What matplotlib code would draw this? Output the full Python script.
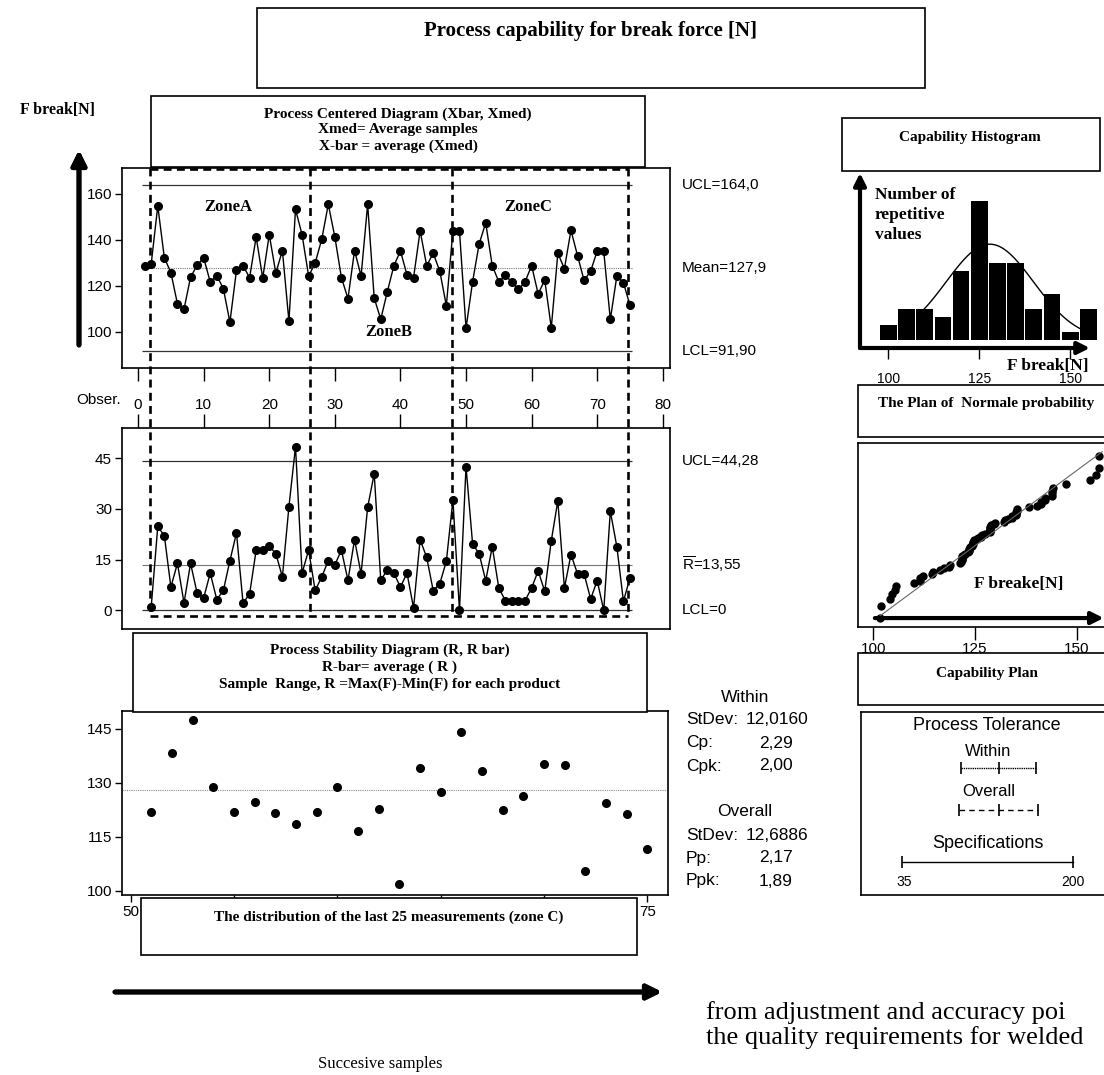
import matplotlib.pyplot as plt
import numpy as np
from matplotlib.patches import Rectangle
from matplotlib.lines import Line2D
from matplotlib.transforms import blended_transform_factory
from statistics import NormalDist

# individual measurements, observations 1..75
x_vals = [128.8, 129.6, 154.8, 132.3, 125.8, 112.2, 109.9, 123.8, 129.0, 132.2,
          121.7, 124.5, 118.8, 104.2, 126.8, 128.8, 123.6, 141.3, 123.4, 142.3,
          125.6, 135.4, 104.6, 153.3, 142.3, 124.3, 130.0, 140.3, 155.5, 141.3,
          123.6, 114.5, 135.4, 124.3, 155.5, 114.7, 105.5, 117.5, 128.8, 135.2,
          124.8, 123.6, 144.0, 128.8, 134.2, 126.4, 111.4, 144.0, 144.0, 101.6,
          121.8, 138.3, 147.4, 128.8, 121.8, 124.6, 121.6, 118.5, 121.8, 128.8,
          116.5, 122.6, 101.8, 134.2, 127.5, 144.2, 133.2, 122.4, 126.4, 135.2,
          135.0, 105.4, 124.4, 121.4, 111.6]
# moving ranges, observations 2..75
r_vals = [1.0, 24.8, 22.1, 6.9, 13.9, 2.2, 13.9, 5.1, 3.7, 11.0,
          3.2, 5.9, 14.7, 22.9, 2.2, 4.8, 17.8, 17.8, 19.0, 16.8,
          9.9, 30.7, 48.4, 11.0, 17.8, 5.9, 9.9, 14.7, 13.5, 17.8,
          8.9, 20.9, 10.8, 30.5, 40.4, 8.9, 12.0, 11.0, 6.9, 11.0,
          0.7, 20.9, 15.7, 5.8, 7.9, 14.5, 32.7, 0.0, 42.5, 19.7,
          16.7, 8.8, 18.8, 6.6, 2.9, 2.9, 2.9, 2.9, 6.6, 11.7,
          5.6, 20.6, 32.4, 6.6, 16.5, 10.8, 10.8, 3.4, 8.8, 0.0,
          29.3, 18.8, 2.7, 9.6]
x_limits = [164.0, 127.9, 91.90]
x_limit_labels = ['UCL=164,0', 'Mean=127,9', 'LCL=91,90']
r_limits = [44.28, 13.55, 0.0]
r_limit_labels = ['UCL=44,28', r'$\overline{\rm R}$=13,55', 'LCL=0']
zone_edges = [1.8, 26.2, 47.8, 74.7]
last_ticks = [50, 55, 60, 65, 70, 75]
last_tick_labels = ['50', '', '', '', '', '75']

hist_centers = [100, 105, 110, 115, 120, 125, 130, 135, 140, 145, 150, 155]
hist_counts = [2, 4, 4, 3, 9, 18, 10, 10, 4, 6, 1, 4]

mean_val = 127.9
sd_within = 12.0160
sd_overall = 12.6886
lsl, usl = 35, 200
stats_within = [('StDev:', '12,0160'), ('Cp:', '2,29'), ('Cpk:', '2,00')]
stats_overall = [('StDev:', '12,6886'), ('Pp:', '2,17'), ('Ppk:', '1,89')]

W, H = 1104, 1075
SERIF = ['Liberation Serif', 'DejaVu Serif']
SANS = ['Liberation Sans Narrow', 'Liberation Sans', 'DejaVu Sans']
plt.rcParams['font.family'] = SANS
plt.rcParams['mathtext.fontset'] = 'custom'
plt.rcParams['mathtext.rm'] = 'Liberation Sans'

fig = plt.figure(figsize=(W / 100, H / 100), dpi=100)


def fx(x):
    return x / W


def fy(y):
    return 1 - y / H


def add_ax(x0, y0, x1, y1):
    return fig.add_axes([fx(x0), fy(y1), (x1 - x0) / W, (y1 - y0) / H])


def txt(x, y, s, **kw):
    kw.setdefault('ha', 'center')
    kw.setdefault('va', 'center')
    return fig.text(fx(x), fy(y), s, **kw)


def frame(x0, y0, x1, y1, lw=1.2):
    fig.add_artist(Rectangle((fx(x0), fy(y1)), (x1 - x0) / W, (y1 - y0) / H,
                             transform=fig.transFigure, facecolor='white',
                             edgecolor='black', lw=lw, zorder=1))


def arrow(x0, y0, x1, y1, lw=3.5, ms=22):
    fig.add_artist(plt.annotate('', xy=(fx(x1), fy(y1)), xytext=(fx(x0), fy(y0)),
                                xycoords='figure fraction',
                                arrowprops=dict(arrowstyle='-|>', lw=lw, color='black',
                                                mutation_scale=ms, shrinkA=0, shrinkB=0)))


def style_spines(ax, lw=1.2):
    for s in ax.spines.values():
        s.set_linewidth(lw)


obs = np.arange(1, len(x_vals) + 1)
obs_r = obs[1:]

# ---- individuals chart
ax_x = add_ax(121.7, 168, 670, 368)
ax_x.plot(obs, x_vals, color='black', lw=1.0, marker='o', ms=5.5, zorder=3)
ax_x.hlines([x_limits[0], x_limits[2]], 0.6, 75.3, color='#333333', lw=0.9)
ax_x.hlines(x_limits[1], 0.6, 75.3, color='#777777', lw=0.8, ls=(0, (1, 1)))
ax_x.set_xlim(-2.5, 81.1)
ax_x.set_ylim(84.3, 171.3)
ax_x.set_xticks(range(0, 81, 10))
ax_x.set_yticks([100, 120, 140, 160])
ax_x.tick_params(axis='x', direction='out', length=9, width=1, labelbottom=False)
ax_x.tick_params(axis='y', direction='out', length=5, width=1, labelsize=11, pad=2)
style_spines(ax_x)
tr = blended_transform_factory(ax_x.transAxes, ax_x.transData)
for v, lab in zip(x_limits, x_limit_labels):
    ax_x.text(1.022, v, lab, transform=tr, ha='left', va='center', fontsize=11,
              clip_on=False)

# ---- moving range chart
ax_r = add_ax(121.7, 427.7, 670, 629)
ax_r.plot(obs_r, r_vals, color='black', lw=1.0, marker='o', ms=5.5, zorder=3)
ax_r.hlines([r_limits[0], r_limits[2]], 0.6, 75.3, color='#333333', lw=0.9)
ax_r.hlines(r_limits[1], 0.6, 75.3, color='#777777', lw=0.8)
ax_r.set_xlim(-2.5, 81.1)
ax_r.set_ylim(-5.5, 54.0)
ax_r.set_xticks(range(0, 81, 10))
ax_r.set_yticks([0, 15, 30, 45])
ax_r.tick_params(axis='x', direction='out', length=10, width=1, top=True, bottom=False,
                 labeltop=True, labelbottom=False, labelsize=11, pad=1)
ax_r.tick_params(axis='y', direction='out', length=5, width=1, labelsize=11, pad=2)
style_spines(ax_r)
tr = blended_transform_factory(ax_r.transAxes, ax_r.transData)
for v, lab in zip(r_limits, r_limit_labels):
    ax_r.text(1.022, v, lab, transform=tr, ha='left', va='center', fontsize=11,
              clip_on=False)
txt(121, 400, 'Obser.', ha='right', fontsize=11)

# zone frames across both charts
trz = blended_transform_factory(ax_x.transData, fig.transFigure)
dash = dict(color='black', lw=1.9, ls=(0, (3, 2)), transform=trz, zorder=5)
for z in zone_edges:
    fig.add_artist(Line2D([z, z], [fy(168), fy(616)], **dash))
fig.add_artist(Line2D([zone_edges[0], zone_edges[-1]], [fy(616), fy(616)], **dash))
fig.add_artist(Line2D([zone_edges[0], zone_edges[-1]], [fy(168.5), fy(168.5)], **dash))

zfont = dict(family=SERIF, weight='bold', fontsize=12)
txt(228, 207, 'ZoneA', **zfont)
txt(389, 332, 'ZoneB', **zfont)
txt(528, 207, 'ZoneC', **zfont)

# ---- last 25 measurements
ax_s = add_ax(121.7, 711, 668, 895)
ax_s.plot(obs[-25:], x_vals[-25:], 'o', color='black', ms=5.5, zorder=3)
ax_s.axhline(mean_val, color='#888888', lw=0.8, ls=(0, (1, 1)))
ax_s.set_xlim(49.57, 76.0)
ax_s.set_ylim(98.8, 149.9)
ax_s.set_xticks(last_ticks)
ax_s.set_xticklabels(last_tick_labels)
ax_s.set_yticks([100, 115, 130, 145])
ax_s.tick_params(direction='out', length=5, width=1, labelsize=11, pad=2)
style_spines(ax_s)

# ---- header boxes (left)
frame(257, 8, 925, 88)
txt(590, 31, 'Process capability for break force [N]', family=SERIF, weight='bold',
    fontsize=15)
frame(150.7, 96, 645, 167)
hfont = dict(family=SERIF, weight='bold', fontsize=11)
txt(398, 114, 'Process Centered Diagram (Xbar, Xmed)', **hfont)
txt(398, 130, 'Xmed= Average samples', **hfont)
txt(398, 146, 'X-bar = average (Xmed)', **hfont)
frame(133, 633, 647, 712)
txt(390, 650, 'Process Stability Diagram (R, R bar)', **hfont)
txt(390, 667, 'R-bar= average ( R )', **hfont)
txt(390, 684, 'Sample  Range, R =Max(F)-Min(F) for each product', **hfont)
frame(141, 898, 637, 955)
txt(389, 917, 'The distribution of the last 25 measurements (zone C)', **hfont)

txt(57, 110, 'F break[N]', family=SERIF, weight='bold', fontsize=11.5)
arrow(79, 345, 79, 150, lw=3.5)
arrow(115, 992, 662, 992, lw=3.5)
txt(380, 1064, 'Succesive samples', family=SERIF, fontsize=12)
txt(706, 1013, 'from adjustment and accuracy poi', ha='left', family=SERIF,
    fontsize=19)
txt(706, 1038, 'the quality requirements for welded', ha='left', family=SERIF,
    fontsize=19)

# ---- stats text
sfont = dict(fontsize=12.5)
txt(745, 697, 'Within', **sfont)
for i, (lab, val) in enumerate(stats_within):
    y = 720 + 23 * i
    txt(686, y, lab, ha='left', **sfont)
    txt(746 if len(val) > 4 else 759, y, val, ha='left', **sfont)
txt(745, 812, 'Overall', **sfont)
for i, (lab, val) in enumerate(stats_overall):
    y = 835 + 23 * i
    txt(686, y, lab, ha='left', **sfont)
    txt(746 if len(val) > 4 else 759, y, val, ha='left', **sfont)

# ---- capability histogram
frame(841.7, 118, 1100, 171)
txt(970, 138, 'Capability Histogram', **hfont)
ax_h = add_ax(860, 173, 1100, 348)
ax_h.bar(hist_centers, hist_counts, width=4.6, color='black')
xc = np.linspace(109, 153, 100)
n_tot = sum(hist_counts)
pdf = np.exp(-0.5 * ((xc - mean_val) / sd_within) ** 2) / (sd_within * np.sqrt(2 * np.pi))
ax_h.plot(xc, n_tot * 5 * pdf, color='black', lw=1.0)
ax_h.set_xlim(92.2, 158.2)
ax_h.set_ylim(-1.04, 21.7)
for s in ax_h.spines.values():
    s.set_visible(False)
ax_h.set_yticks([])
ax_h.set_xticks([100, 125, 150])
ax_h.tick_params(axis='x', direction='out', length=8, width=1, labelsize=10, pad=9)
ax_h.annotate('', xy=(0, 1), xytext=(0, 0), xycoords='axes fraction',
              arrowprops=dict(arrowstyle='-|>', lw=3, color='black', mutation_scale=18,
                              shrinkA=0, shrinkB=0), annotation_clip=False)
ax_h.annotate('', xy=(0.958, 0), xytext=(0, 0), xycoords='axes fraction',
              arrowprops=dict(arrowstyle='-|>', lw=3, color='black', mutation_scale=18,
                              shrinkA=0, shrinkB=0), annotation_clip=False)
txt(875, 215, 'Number of\nrepetitive\nvalues', ha='left', family=SERIF, weight='bold',
    fontsize=12.5, linespacing=1.3)
txt(1007, 366, 'F break[N]', ha='left', family=SERIF, weight='bold', fontsize=12.5)

# ---- normal probability plot
frame(858, 385, 1110, 437)
txt(986, 404, 'The Plan of  Normale probability', **hfont)
ax_p = add_ax(858, 442.7, 1110, 626.7)
xs = np.sort(x_vals)
nd = NormalDist()
pp = (np.arange(1, len(xs) + 1) - 0.3) / (len(xs) + 0.4)
zq = np.array([nd.inv_cdf(p) for p in pp])
sd_line = (xs[-1] - xs[0]) / (zq[-1] - zq[0])
ax_p.plot(xs, zq, 'o', color='black', ms=5)
xl = np.array([xs[0] - 1.0, xs[-1] + 0.8])
ax_p.plot(xl, (xl - mean_val) / sd_line, color='#666666', lw=0.8)
ax_p.set_xlim(96.24, 158.2)
ax_p.set_ylim(-2.607, 2.741)
ax_p.set_yticks([])
ax_p.set_xticks([100, 125, 150])
ax_p.tick_params(axis='x', direction='out', length=9, width=1, labelsize=11, pad=2)
style_spines(ax_p)
ax_p.annotate('', xy=(0.975, 0.047), xytext=(0.067, 0.047), xycoords='axes fraction',
              arrowprops=dict(arrowstyle='-|>', lw=3, color='black', mutation_scale=18,
                              shrinkA=0, shrinkB=0))
txt(1019, 584, 'F breake[N]', family=SERIF, weight='bold', fontsize=12.5)

# ---- capability plan
frame(858, 653, 1110, 705)
txt(987, 673, 'Capability Plan', **hfont)
ax_c = add_ax(860.7, 711.7, 1110, 895)
ax_c.set_xlim(-5.1, 235.4)
ax_c.set_ylim(895, 711.7)
ax_c.set_xticks([])
ax_c.set_yticks([])
style_spines(ax_c)
ax_c.text(117, 725, 'Process Tolerance', ha='center', va='center', fontsize=13)
ax_c.text(118, 751, 'Within', ha='center', va='center', fontsize=12)
ax_c.text(118, 792, 'Overall', ha='center', va='center', fontsize=12)
ax_c.text(118, 843, 'Specifications', ha='center', va='center', fontsize=13)
w_lo, w_hi = mean_val - 3 * sd_within, mean_val + 3 * sd_within
o_lo, o_hi = mean_val - 3 * sd_overall, mean_val + 3 * sd_overall
ax_c.plot([w_lo, w_hi], [768, 768], color='black', lw=1.0, ls=(0, (1, 0.6)))
ax_c.plot([w_lo, mean_val, w_hi], [768] * 3, ls='', marker='|', ms=8, mew=1.2,
          color='black')
ax_c.plot([o_lo, o_hi], [810, 810], color='black', lw=1.0, ls=(0, (4, 3)))
ax_c.plot([o_lo, mean_val, o_hi], [810] * 3, ls='', marker='|', ms=9, mew=1.2,
          color='black')
ax_c.plot([lsl, usl], [862, 862], color='black', lw=1.0)
ax_c.plot([lsl, usl], [862] * 2, ls='', marker='|', ms=8, mew=1.2, color='black')
ax_c.text(lsl + 2, 882, str(lsl), ha='center', va='center', fontsize=10)
ax_c.text(usl, 882, str(usl), ha='center', va='center', fontsize=10)

fig.savefig('out.png', dpi=100)
